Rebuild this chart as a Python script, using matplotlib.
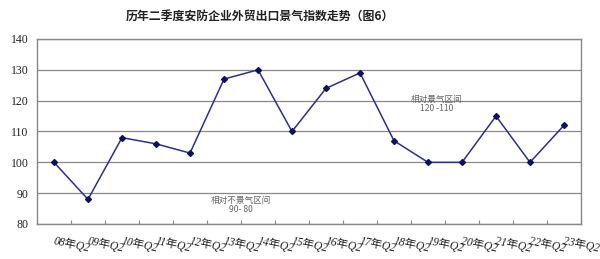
import matplotlib
matplotlib.use('Agg')
import matplotlib.pyplot as plt
import numpy as np

plt.rcParams['font.family'] = ['Liberation Serif', 'Noto Sans CJK SC']

labels = ['08年Q2', '09年Q2', '10年Q2', '11年Q2', '12年Q2', '13年Q2', '14年Q2', '15年Q2',
          '16年Q2', '17年Q2', '18年Q2', '19年Q2', '20年Q2', '21年Q2', '22年Q2', '23年Q2']
values = [100, 88, 108, 106, 103, 127, 130, 110, 124, 129, 107, 100, 100, 115, 100, 112]

fig = plt.figure(figsize=(6, 2.59), dpi=100)
ax = fig.add_axes([37 / 600, 35 / 259, 544 / 600, 185 / 259])

x = np.arange(len(values))
ax.plot(x, values, color='#2e2e8c', lw=1.1, marker='D', ms=3,
        markerfacecolor='#101060', markeredgecolor='#101060')

ax.set_xlim(-0.5, len(values) - 0.5)
ax.set_ylim(80, 140)
ax.set_yticks(range(80, 141, 10))
ax.yaxis.grid(True, color='#888888', lw=0.9)
ax.set_axisbelow(True)
ax.tick_params(axis='y', length=0, labelsize=8.5, pad=6, labelcolor='#222222')

ax.set_xticks(np.arange(len(values) + 1) - 0.5)
ax.set_xticklabels([])
ax.tick_params(axis='x', direction='in', length=3, color='#888888')
for i, lab in enumerate(labels):
    ax.text(i + 0.02, 76.3, lab, rotation=-12, rotation_mode='anchor',
            ha='left', va='top', fontsize=8.3, style='italic', color='#222222')

for s in ax.spines.values():
    s.set_color('#888888')
    s.set_linewidth(1.0)

ax.text(11.25, 119.0, '相对景气区间\n120 -110', ha='center', va='center',
        fontsize=6.2, color='#666666', family=['Noto Sans CJK SC'], linespacing=1.0)
ax.text(5.5, 86.2, '相对不景气区间\n90- 80', ha='center', va='center',
        fontsize=6.2, color='#666666', family=['Noto Sans CJK SC'], linespacing=1.0)

fig.text(260 / 600, 1 - 16 / 259, '历年二季度安防企业外贸出口景气指数走势（图6）',
         ha='center', va='center', fontsize=8.6, fontweight='bold',
         family=['Noto Sans CJK SC'], color='#222222')

fig.savefig('out.png', dpi=100)
